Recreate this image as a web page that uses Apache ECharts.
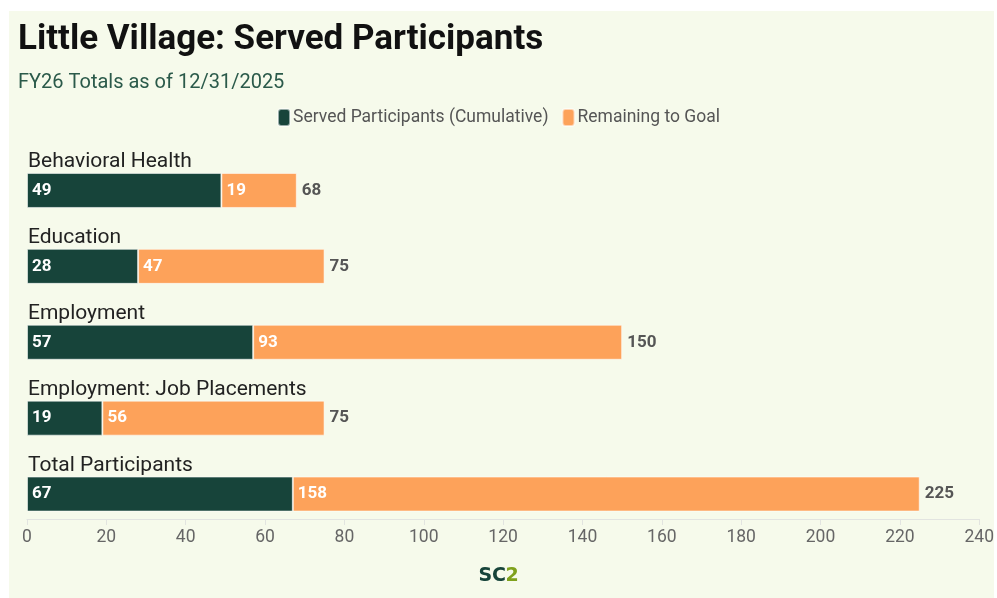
<!DOCTYPE html>
<html>
<head>
<meta charset="utf-8">
<script src="https://cdn.jsdelivr.net/npm/echarts@6/dist/echarts.min.js"></script>
<style>
  html, body { margin: 0; padding: 0; background: #ffffff; }
  #chart { width: 997px; height: 598px; }
</style>
</head>
<body>
<div id="chart"></div>
<script>
// Program areas, top to bottom
const categories = [
  'Behavioral Health',
  'Education',
  'Employment',
  'Employment: Job Placements',
  'Total Participants'
];
// Participants served so far (cumulative)
const served = [49, 28, 57, 19, 67];
// Participants still needed to reach each goal
const remaining = [19, 47, 93, 56, 158];
// Value axis range
const axisMin = 0;
const axisMax = 240;
const axisStep = 20;

const goals = served.map((v, i) => v + remaining[i]);

const DARK = '#17443a';
const ORANGE = '#fda25a';
const FONT = 'Roboto, "Noto Sans", sans-serif';

const chart = echarts.init(document.getElementById('chart'), null, { renderer: 'canvas' });

chart.setOption({
  backgroundColor: '#ffffff',
  animation: false,
  graphic: [
    {
      type: 'rect', z: -10, silent: true,
      shape: { x: 9, y: 11, width: 985, height: 587 },
      style: { fill: '#f6faeb' }
    },
    {
      type: 'text', left: 18, top: 23,
      style: {
        text: 'Little Village: Served Participants',
        font: 'bold 35px ' + FONT, fill: '#111111'
      }
    },
    {
      type: 'text', left: 18, top: 73,
      style: {
        text: 'FY26 Totals as of 12/31/2025',
        font: '20px ' + FONT, fill: '#2b5a4a'
      }
    },
    {
      type: 'group', left: 'center', top: 567,
      children: [
        { type: 'text', x: 0, y: 0, style: { text: 'SC', font: '900 19px "DejaVu Sans", ' + FONT, fill: DARK } },
        { type: 'text', x: 27, y: 0, style: { text: '2', font: '900 19px "DejaVu Sans", ' + FONT, fill: '#7fa11c' } }
      ]
    }
  ],
  legend: {
    data: ['Served Participants (Cumulative)', 'Remaining to Goal'],
    top: 103,
    left: 'center',
    itemWidth: 12,
    itemHeight: 17,
    itemGap: 13,
    icon: 'roundRect',
    textStyle: { color: '#555555', fontSize: 17.5, fontFamily: FONT, padding: [0, 0, 0, -2] }
  },
  grid: {
    left: 27,
    right: 17,
    top: 152.5,
    bottom: 66,
    containLabel: false
  },
  xAxis: {
    type: 'value',
    min: axisMin,
    max: axisMax,
    interval: axisStep,
    offset: -13,
    axisLine: { show: true, lineStyle: { color: '#e2e4e0', width: 1 } },
    axisTick: { show: true, length: 6, lineStyle: { color: '#e2e4e0' } },
    splitLine: { show: false },
    axisLabel: {
      color: '#666666', fontSize: 17.5, margin: 10,
      fontFamily: FONT
    }
  },
  yAxis: {
    type: 'category',
    data: categories,
    inverse: true,
    axisLine: { show: false },
    axisTick: { show: false },
    axisLabel: {
      inside: true,
      align: 'left',
      verticalAlign: 'bottom',
      margin: 0,
      padding: [0, 0, 18, 1],
      color: '#222222',
      fontSize: 21,
      fontFamily: FONT
    }
  },
  series: [
    {
      name: 'Served Participants (Cumulative)',
      type: 'bar',
      stack: 'goal',
      barWidth: 35,
      data: served,
      itemStyle: { color: DARK, borderColor: 'rgba(255,255,255,0.55)', borderWidth: 1 },
      label: {
        show: true, position: 'insideLeft', distance: 5,
        color: '#ffffff', fontWeight: 'bold', fontSize: 17, fontFamily: FONT
      }
    },
    {
      name: 'Remaining to Goal',
      type: 'bar',
      stack: 'goal',
      barWidth: 35,
      data: remaining,
      itemStyle: { color: ORANGE, borderColor: 'rgba(255,255,255,0.55)', borderWidth: 1 },
      label: {
        show: true, position: 'insideLeft', distance: 5,
        color: '#ffffff', fontWeight: 'bold', fontSize: 17, fontFamily: FONT
      }
    },
    {
      name: 'Goal',
      type: 'bar',
      stack: 'goal',
      barWidth: 35,
      data: goals.map(() => 0),
      itemStyle: { color: 'transparent' },
      label: {
        show: true, position: 'right', distance: 5,
        formatter: (p) => String(goals[p.dataIndex]),
        color: '#555555', fontWeight: 'bold', fontSize: 17, fontFamily: FONT
      }
    }
  ]
});
</script>
</body>
</html>
